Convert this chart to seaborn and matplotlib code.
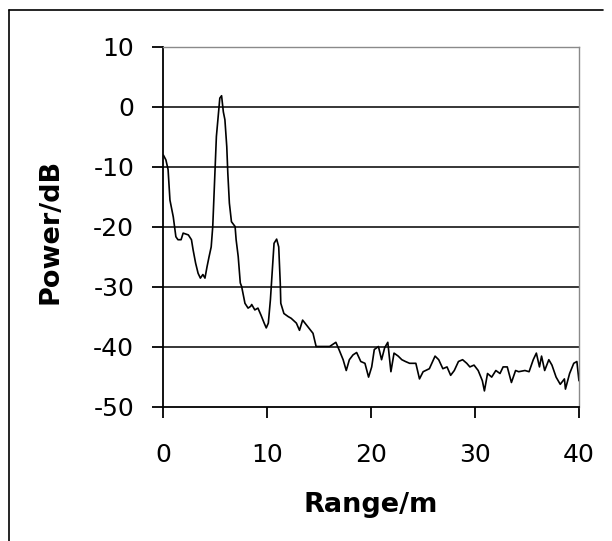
import matplotlib
matplotlib.use("Agg")
import matplotlib.pyplot as plt
import seaborn as sns
import pandas as pd
from matplotlib.lines import Line2D

# range (m) and power (dB)
range_m = [0.0, 0.24, 0.45, 0.63, 0.95, 1.2, 1.4, 1.7, 1.9, 2.4, 2.7, 2.86, 3.1,
           3.34, 3.56, 3.8, 4.0, 4.2, 4.4, 4.6, 4.75, 4.85, 4.97, 5.1, 5.27, 5.43,
           5.6, 5.77, 5.92, 6.1, 6.2, 6.35, 6.55, 6.9, 7.0, 7.2, 7.4, 7.53, 7.85,
           8.15, 8.4, 8.5, 8.8, 9.1, 9.4, 9.7, 9.9, 10.1, 10.3, 10.5, 10.65, 10.9,
           11.1, 11.25, 11.3, 11.6, 12.0, 12.3, 12.8, 13.1, 13.4, 13.9, 14.4, 14.7,
           15.2, 15.7, 16.0, 16.6, 16.9, 17.3, 17.6, 17.9, 18.25, 18.6, 19.0, 19.4,
           19.75, 20.05, 20.3, 20.7, 21.0, 21.3, 21.6, 21.9, 22.2, 22.6, 22.95,
           23.3, 23.7, 24.3, 24.65, 25.0, 25.6, 26.15, 26.5, 26.9, 27.3, 27.65,
           28.0, 28.4, 28.8, 29.2, 29.5, 29.9, 30.3, 30.7, 30.9, 31.2, 31.6, 32.0,
           32.4, 32.7, 33.1, 33.5, 33.9, 34.2, 34.8, 35.2, 35.6, 35.9, 36.2, 36.4,
           36.7, 37.1, 37.4, 37.8, 38.2, 38.6, 38.7, 39.1, 39.5, 39.8, 40.0]
power_db = [-8.1, -8.9, -10.5, -15.6, -18.4, -21.7, -22.2, -22.2, -21.1, -21.4,
            -22.2, -23.9, -26.1, -27.8, -28.6, -28.0, -28.6, -26.7, -25.0, -23.4,
            -20.0, -15.6, -10.0, -5.0, -1.7, 1.4, 1.8, -0.9, -2.2, -6.7, -11.1,
            -16.1, -19.2, -20.0, -22.2, -25.0, -29.4, -30.0, -32.8, -33.6, -33.3,
            -33.0, -33.9, -33.6, -34.8, -36.1, -36.9, -36.1, -32.2, -26.7, -22.8,
            -22.1, -23.4, -29.5, -32.8, -34.5, -35.0, -35.3, -36.1, -37.3, -35.6,
            -36.7, -37.8, -40.0, -40.0, -40.0, -40.0, -39.3, -40.5, -42.2, -44.0,
            -42.2, -41.4, -41.0, -42.5, -42.8, -45.1, -43.4, -40.5, -40.0, -42.2,
            -40.2, -39.3, -44.2, -41.1, -41.6, -42.2, -42.5, -42.8, -42.8, -45.4,
            -44.2, -43.7, -41.6, -42.2, -43.7, -43.4, -44.8, -44.0, -42.5, -42.2,
            -42.8, -43.4, -43.1, -44.0, -45.7, -47.4, -44.5, -45.1, -44.0, -44.5,
            -43.4, -43.4, -46.0, -44.0, -44.2, -44.0, -44.2, -42.2, -41.1, -43.4,
            -41.6, -44.0, -42.2, -43.1, -45.1, -46.3, -45.4, -47.1, -44.5, -42.8,
            -42.5, -45.7]

x_ticks = [0, 10, 20, 30, 40]
y_ticks = [-50, -40, -30, -20, -10, 0, 10]

df = pd.DataFrame({"Range/m": range_m, "Power/dB": power_db})

sns.set_style("white")
plt.rcParams["font.family"] = ["DejaVu Sans"]
plt.rcParams["axes.unicode_minus"] = False
plt.rcParams["text.color"] = "black"
plt.rcParams["axes.labelcolor"] = "black"
plt.rcParams["xtick.color"] = "black"
plt.rcParams["ytick.color"] = "black"

fig = plt.figure(figsize=(6.12, 5.41), dpi=100)
ax = fig.add_axes([0.267, 0.2486, 0.679, 0.6654])

sns.lineplot(data=df, x="Range/m", y="Power/dB", color="black", linewidth=1.2, ax=ax)

ax.set_xlim(0, 40)
ax.set_ylim(-50, 10)
ax.set_xticks(x_ticks)
ax.set_xticklabels([str(t) for t in x_ticks])
ax.set_yticks(y_ticks)
ax.set_yticklabels([str(t) for t in y_ticks])

# horizontal gridlines, black like Excel
for t in y_ticks[1:-1]:
    ax.axhline(t, color="black", linewidth=1.1, zorder=1)

for side in ["top", "right"]:
    ax.spines[side].set_color("#8a8a8a")
    ax.spines[side].set_linewidth(1.0)
for side in ["left", "bottom"]:
    ax.spines[side].set_color("black")
    ax.spines[side].set_linewidth(1.3)

ax.tick_params(axis="both", direction="out", length=8, width=1.3, color="black",
               labelcolor="black", labelsize=18, bottom=True, left=True)
ax.tick_params(axis="y", pad=13)
ax.tick_params(axis="x", pad=18)

ax.set_xlabel("Range/m", fontsize=19.5, fontweight="bold", color="black")
ax.set_ylabel("Power/dB", fontsize=19.5, fontweight="bold", color="black")
ax.xaxis.set_label_coords(0.5, -0.274)
ax.xaxis.label.set_va("center")
ax.yaxis.set_label_coords(-0.272, 0.4875)
ax.yaxis.label.set_va("center")

# chart area border (top and left are visible in the reference)
fig.add_artist(Line2D([0.014, 0.986], [0.982, 0.982], color="black", linewidth=1.2,
                      transform=fig.transFigure))
fig.add_artist(Line2D([0.014, 0.014], [0.982, 0.0], color="black", linewidth=1.2,
                      transform=fig.transFigure))

fig.savefig("out.png", dpi=100)
